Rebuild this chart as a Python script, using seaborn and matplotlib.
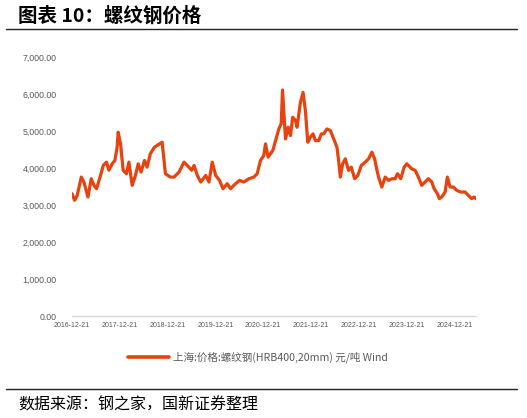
import matplotlib
matplotlib.use("Agg")
import matplotlib.pyplot as plt
import matplotlib.dates as mdates
from matplotlib.lines import Line2D
import seaborn as sns
import pandas as pd

# ---- data ----
dates = [
    "2016-12-21", "2017-01-10", "2017-01-30", "2017-03-02", "2017-03-22", "2017-04-22",
    "2017-05-17", "2017-06-07", "2017-06-27", "2017-07-27", "2017-08-17", "2017-09-11",
    "2017-09-29", "2017-10-24", "2017-11-14", "2017-12-01", "2017-12-09", "2017-12-27",
    "2018-01-16", "2018-02-10", "2018-03-01", "2018-03-26", "2018-04-20", "2018-05-11",
    "2018-06-02", "2018-06-28", "2018-07-18", "2018-08-12", "2018-09-12", "2018-10-02",
    "2018-11-10", "2018-11-22", "2018-12-05", "2019-01-12", "2019-02-09", "2019-03-19",
    "2019-04-26", "2019-05-21", "2019-06-24", "2019-07-12", "2019-08-06", "2019-09-01",
    "2019-10-09", "2019-11-03", "2019-11-28", "2019-12-24", "2020-01-23", "2020-02-18",
    "2020-03-21", "2020-04-16", "2020-05-24", "2020-06-24", "2020-07-27", "2020-09-03",
    "2020-10-11", "2020-11-05", "2020-12-01", "2020-12-26", "2021-01-08", "2021-01-28",
    "2021-03-05", "2021-03-30", "2021-04-20", "2021-05-08", "2021-05-18", "2021-06-10",
    "2021-06-30", "2021-07-18", "2021-08-04", "2021-08-25", "2021-09-06", "2021-10-02",
    "2021-10-22", "2021-11-09", "2021-11-27", "2021-12-17", "2022-01-06", "2022-01-25",
    "2022-02-19", "2022-03-11", "2022-03-29", "2022-04-23", "2022-05-19", "2022-06-13",
    "2022-07-08", "2022-07-21", "2022-08-03", "2022-08-21", "2022-09-10", "2022-10-05",
    "2022-10-26", "2022-11-20", "2022-12-15", "2023-01-10", "2023-02-10", "2023-03-07",
    "2023-04-01", "2023-04-22", "2023-05-05", "2023-05-22", "2023-06-16", "2023-07-12",
    "2023-08-06", "2023-09-01", "2023-09-26", "2023-10-14", "2023-11-08", "2023-12-04",
    "2023-12-24", "2024-01-31", "2024-02-26", "2024-03-22", "2024-04-16", "2024-05-12",
    "2024-06-06", "2024-07-02", "2024-07-20", "2024-08-14", "2024-08-29", "2024-09-16",
    "2024-10-12", "2024-10-29", "2024-11-19", "2024-12-14", "2025-01-08", "2025-02-08",
    "2025-03-13", "2025-04-07", "2025-05-03", "2025-05-20", "2025-06-05",
]
prices = [
    3315, 3135, 3270, 3765, 3630, 3225,
    3720, 3540, 3450, 3810, 4080, 4170,
    3950, 4125, 4215, 4575, 4980, 4665,
    3950, 3855, 4170, 3540, 3810, 4125,
    3900, 4215, 4035, 4400, 4575, 4620,
    4710, 4305, 3855, 3765, 3765, 3900,
    4170, 4080, 3950, 4080, 3810, 3630,
    3810, 3630, 4170, 3810, 3675, 3450,
    3585, 3450, 3585, 3675, 3630, 3720,
    3765, 3855, 4215, 4350, 4665, 4305,
    4485, 4800, 5070, 5210, 6125, 4800,
    5115, 4890, 5385, 5300, 5115, 5790,
    6060, 5565, 4710, 4845, 4935, 4755,
    4755, 4935, 4935, 5070, 5025, 4800,
    4575, 4215, 3765, 4125, 4260, 3945,
    4035, 3720, 3810, 4080, 4170, 4260,
    4440, 4260, 4035, 3765, 3495, 3765,
    3675, 3720, 3720, 3855, 3720, 4035,
    4125, 3990, 3945, 3765, 3540, 3630,
    3720, 3630, 3450, 3315, 3180, 3225,
    3360, 3765, 3495, 3495, 3405, 3360,
    3360, 3270, 3180, 3225, 3180,
]
yticks = [0, 1000, 2000, 3000, 4000, 5000, 6000, 7000]
xtick_labels = ["2016-12-21", "2017-12-21", "2018-12-21", "2019-12-21", "2020-12-21",
                "2021-12-21", "2022-12-21", "2023-12-21", "2024-12-21"]
series_name = "上海:价格:螺纹钢(HRB400,20mm) 元/吨 Wind"
title_text = "图表 10：螺纹钢价格"
source_text = "数据来源：钢之家，国新证券整理"

# ---- styling ----
sns.set_style("white")
plt.rcParams["font.family"] = ["Noto Sans CJK SC", "DejaVu Sans"]

LINE_COLOR = "#E8420E"
GREY = "#595959"

df = pd.DataFrame({"date": pd.to_datetime(dates), "price": prices})

W, H = 527, 418
fig = plt.figure(figsize=(W / 100, H / 100), dpi=100)
ax = fig.add_axes([72 / W, 1 - 316 / H, (476 - 72) / W, (316 - 57.7) / H])

sns.lineplot(data=df, x="date", y="price", ax=ax, color=LINE_COLOR,
             linewidth=2.3, legend=False)

ax.set_ylim(0, 7000)
ax.set_xlim(df["date"].iloc[0], df["date"].iloc[-1])
ax.set_yticks(yticks)
ax.set_yticklabels([f"{v:,.2f}" for v in yticks], fontsize=6.3,
                   color=GREY, family=["Liberation Sans", "DejaVu Sans"])
xt = pd.to_datetime(xtick_labels)
ax.set_xticks(xt)
ax.set_xticklabels(xtick_labels, fontsize=5, color=GREY,
                   family=["Liberation Sans", "DejaVu Sans"])
ax.tick_params(axis="y", length=0, pad=11)
ax.tick_params(axis="x", length=0, pad=4)
ax.set_xlabel("")
ax.set_ylabel("")
for s in ["top", "right", "left"]:
    ax.spines[s].set_visible(False)
ax.spines["bottom"].set_color("#D9D9D9")
ax.spines["bottom"].set_linewidth(1.0)
ax.grid(False)

# legend
handle = Line2D([], [], color=LINE_COLOR, linewidth=2.6)
fig.legend([handle], [series_name], loc="center", bbox_to_anchor=(258 / W, 1 - 357 / H),
           frameon=False, fontsize=7.6, handlelength=3.9, handletextpad=0.35,
           labelcolor=GREY)

# title and rules
fig.text(18 / W, 1 - 16 / H, title_text, fontsize=14, fontweight="bold",
         ha="left", va="center", color="black")
fig.add_artist(Line2D([6 / W, 517 / W], [1 - 29.3 / H, 1 - 29.3 / H],
                      color="#222222", linewidth=1.0))
fig.add_artist(Line2D([6 / W, 517 / W], [1 - 389.3 / H, 1 - 389.3 / H],
                      color="#222222", linewidth=1.0))
fig.text(18 / W, 1 - 405 / H, source_text, fontsize=11.5, ha="left",
         va="center", color="black")

fig.savefig("out.png", dpi=100, facecolor="white")
